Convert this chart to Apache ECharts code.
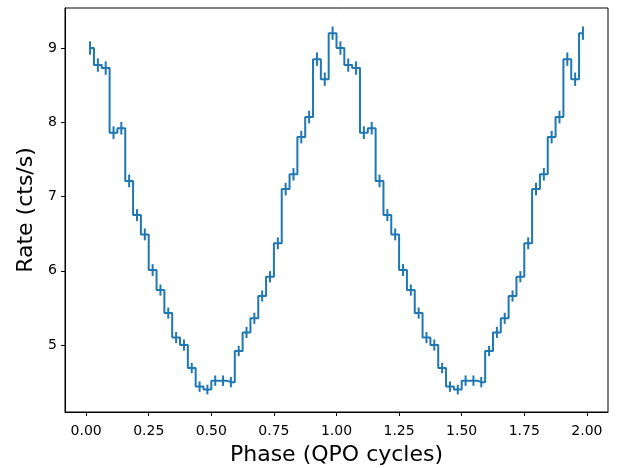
<!DOCTYPE html>
<html>
<head>
<meta charset="utf-8">
<script src="https://cdn.jsdelivr.net/npm/echarts@6/dist/echarts.min.js"></script>
<style>
  html, body { margin: 0; padding: 0; background: #fff; }
  #chart { width: 620px; height: 468px; }
</style>
</head>
<body>
<div id="chart"></div>
<script>
// folded light curve, 32 bins per QPO cycle, shown twice
var binsPerCycle = 32;

var rate = [
  9.00, 8.77, 8.73, 7.86, 7.92, 7.21, 6.75, 6.49, 6.01, 5.74, 5.43, 5.10, 5.00, 4.69, 4.44, 4.40,
  4.52, 4.52, 4.50, 4.92, 5.17, 5.36, 5.66, 5.92, 6.37, 7.10, 7.30, 7.80, 8.07, 8.85, 8.58, 9.20,
  9.00, 8.77, 8.73, 7.86, 7.92, 7.21, 6.75, 6.49, 6.01, 5.74, 5.43, 5.10, 5.00, 4.69, 4.44, 4.40,
  4.52, 4.52, 4.50, 4.92, 5.17, 5.36, 5.66, 5.92, 6.37, 7.10, 7.30, 7.80, 8.07, 8.85, 8.58, 9.20
];

var rateErr = [
  0.09, 0.09, 0.09, 0.085, 0.085, 0.085, 0.08, 0.08, 0.08, 0.075, 0.075, 0.075, 0.075, 0.07, 0.07, 0.065,
  0.07, 0.07, 0.07, 0.07, 0.075, 0.075, 0.075, 0.075, 0.08, 0.085, 0.085, 0.085, 0.085, 0.09, 0.09, 0.09,
  0.09, 0.09, 0.09, 0.085, 0.085, 0.085, 0.08, 0.08, 0.08, 0.075, 0.075, 0.075, 0.075, 0.07, 0.07, 0.065,
  0.07, 0.07, 0.07, 0.07, 0.075, 0.075, 0.075, 0.075, 0.08, 0.085, 0.085, 0.085, 0.085, 0.09, 0.09, 0.09
];

var xTicks = [0, 0.25, 0.5, 0.75, 1.0, 1.25, 1.5, 1.75, 2.0];
var yTicks = [5, 6, 7, 8, 9];

var font = 'DejaVu Sans';
var blue = '#1f77b4';

// bin centres
var stepData = [];
var errData = [];
for (var i = 0; i < rate.length; i++) {
  var ph = (i + 0.5) / binsPerCycle;
  stepData.push([ph, rate[i]]);
  errData.push([ph, rate[i], rateErr[i]]);
}

var chart = echarts.init(document.getElementById('chart'), null, { renderer: 'canvas' });

var option = {
  animation: false,
  backgroundColor: '#fff',
  grid: {
    left: 65, right: 12, top: 8, bottom: 56,
    outerBoundsMode: 'none',
    containLabel: false,
    show: true, borderColor: '#000', borderWidth: 1, backgroundColor: 'transparent'
  },
  xAxis: {
    type: 'value',
    min: -0.0844,
    max: 2.0844,
    name: 'Phase (QPO cycles)',
    nameLocation: 'middle',
    nameGap: 32,
    nameTextStyle: { fontFamily: font, fontSize: 22, color: '#000' },
    axisLine: { show: true, onZero: false, lineStyle: { color: '#000', width: 1 } },
    splitLine: { show: false },
    axisTick: { show: true, inside: false, length: 4, lineStyle: { color: '#000', width: 1 }, customValues: xTicks },
    axisLabel: {
      fontFamily: font, fontSize: 14, color: '#000', margin: 12,
      customValues: xTicks,
      formatter: function (v) { return v.toFixed(2); }
    }
  },
  yAxis: {
    type: 'value',
    min: 4.098,
    max: 9.539,
    name: 'Rate (cts/s)',
    nameLocation: 'middle',
    nameGap: 27,
    nameRotate: 90,
    nameTextStyle: { fontFamily: font, fontSize: 22, color: '#000' },
    axisLine: { show: true, onZero: false, lineStyle: { color: '#000', width: 1 } },
    splitLine: { show: false },
    axisTick: { show: true, inside: false, length: 4, lineStyle: { color: '#000', width: 1 }, customValues: yTicks },
    axisLabel: {
      fontFamily: font, fontSize: 14, color: '#000', margin: 8,
      customValues: yTicks
    }
  },
  series: [
    {
      type: 'line',
      step: 'middle',
      data: stepData,
      showSymbol: false,
      lineStyle: { color: blue, width: 2 },
      z: 3
    },
    {
      type: 'custom',
      data: errData,
      renderItem: function (params, api) {
        var x = api.value(0), y = api.value(1), e = api.value(2);
        var lo = api.coord([x, y - e]);
        var hi = api.coord([x, y + e]);
        return {
          type: 'line',
          shape: { x1: lo[0], y1: lo[1], x2: hi[0], y2: hi[1] },
          style: { stroke: blue, lineWidth: 2 }
        };
      },
      z: 3
    }
  ]
};

chart.setOption(option);
</script>
</body>
</html>
